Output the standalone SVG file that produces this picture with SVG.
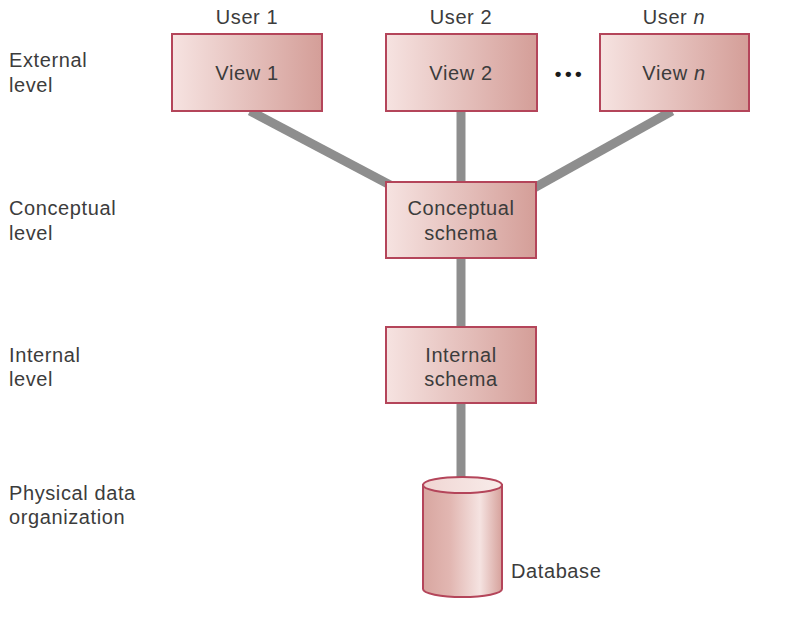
<svg xmlns="http://www.w3.org/2000/svg" width="788" height="618" viewBox="0 0 788 618">
<defs>
<linearGradient id="boxg" x1="0" y1="0" x2="1" y2="0">
<stop offset="0" stop-color="#f6e3e1"/>
<stop offset="1" stop-color="#d49e98"/>
</linearGradient>
<linearGradient id="cylg" x1="0" y1="0" x2="1" y2="0">
<stop offset="0" stop-color="#d8a6a0"/>
<stop offset="0.35" stop-color="#e2b7b2"/>
<stop offset="0.72" stop-color="#f5e3e1"/>
<stop offset="1" stop-color="#d6a19b"/>
</linearGradient>
<linearGradient id="topg" x1="0" y1="0" x2="1" y2="0">
<stop offset="0" stop-color="#f0d6d3"/>
<stop offset="1" stop-color="#f8ecea"/>
</linearGradient>
</defs>
<style>
text{font-family:"Liberation Sans",Arial,sans-serif;font-size:20px;letter-spacing:0.6px;fill:#3c3c3c}
.c{text-anchor:middle}
.box{fill:url(#boxg);stroke:#b4455a;stroke-width:2}
.conn{stroke:#8e8e8e;stroke-width:9;fill:none}
</style>
<rect width="788" height="618" fill="#ffffff"/>
<g id="connectors">
<line class="conn" x1="250" y1="111" x2="392" y2="186"/>
<line class="conn" x1="461" y1="111" x2="461" y2="183"/>
<line class="conn" x1="672" y1="111" x2="534" y2="188"/>
<line class="conn" x1="461" y1="257" x2="461" y2="328"/>
<line class="conn" x1="461" y1="402" x2="461" y2="480"/>
</g>
<g id="labels">
<text x="9" y="67">External</text>
<text x="9" y="92">level</text>
<text x="9" y="215">Conceptual</text>
<text x="9" y="240">level</text>
<text x="9" y="362">Internal</text>
<text x="9" y="386">level</text>
<text x="9" y="500">Physical data</text>
<text x="9" y="524">organization</text>
</g>
<g id="view1">
<text class="c" x="247" y="24">User 1</text>
<rect class="box" x="172" y="34" width="150" height="77"/>
<text class="c" x="247" y="80">View 1</text>
</g>
<g id="view2">
<text class="c" x="461" y="24">User 2</text>
<rect class="box" x="386" y="34" width="151" height="77"/>
<text class="c" x="461" y="80">View 2</text>
</g>
<g id="dots">
<text class="c" x="570" y="80" style="font-size:19px;font-weight:bold;letter-spacing:3.5px;fill:#1a1a1a">•••</text>
</g>
<g id="viewn">
<text class="c" x="674" y="24">User <tspan font-style="italic">n</tspan></text>
<rect class="box" x="600" y="34" width="149" height="77"/>
<text class="c" x="674" y="80">View <tspan font-style="italic">n</tspan></text>
</g>
<g id="conceptual">
<rect class="box" x="386" y="182" width="150" height="76"/>
<text class="c" x="461" y="215">Conceptual</text>
<text class="c" x="461" y="240">schema</text>
</g>
<g id="internal">
<rect class="box" x="386" y="327" width="150" height="76"/>
<text class="c" x="461" y="362">Internal</text>
<text class="c" x="461" y="386">schema</text>
</g>
<g id="database">
<path d="M423,485 L423,589 A39.5,8 0 0 0 502,589 L502,485 Z" fill="url(#cylg)" stroke="#b4455a" stroke-width="2"/>
<ellipse cx="462.5" cy="485" rx="39.5" ry="8" fill="url(#topg)" stroke="#b4455a" stroke-width="2"/>
<text x="511" y="578">Database</text>
</g>
</svg>
